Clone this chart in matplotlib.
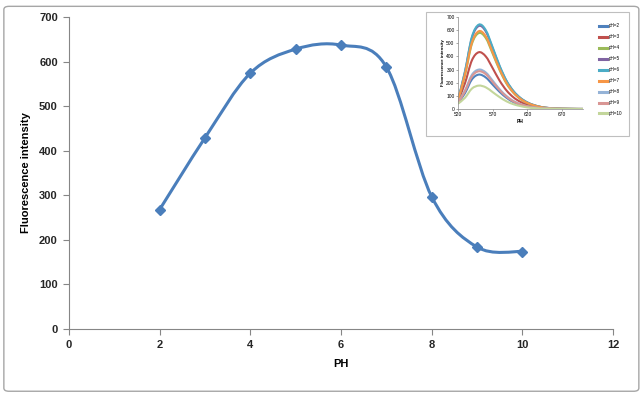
import matplotlib
matplotlib.use("Agg")
import matplotlib.pyplot as plt
from matplotlib.path import Path
from matplotlib.patches import PathPatch, FancyBboxPatch, Rectangle
from matplotlib.lines import Line2D

plt.rcParams['font.family'] = ['Liberation Sans', 'DejaVu Sans']

# Main chart data
ph = [2, 3, 4, 5, 6, 7, 8, 9, 10]
intensity = [268, 429, 574, 628, 637, 588, 297, 184, 174]

# Inset spectra data
wavelength = [520, 530, 540, 550, 560, 570, 580, 590, 600, 610, 620, 630, 640, 650, 660, 680, 700]
spec_ph2 = [45, 120, 225, 262, 240, 185, 130, 85, 52, 32, 18, 10, 5, 3, 1, 0, 0]
spec_ph3 = [60, 195, 370, 432, 400, 310, 215, 140, 88, 54, 32, 18, 10, 5, 2, 0, 0]
spec_ph4 = [65, 255, 495, 578, 540, 420, 295, 192, 122, 75, 45, 26, 14, 7, 3, 1, 0]
spec_ph5 = [68, 280, 540, 632, 590, 460, 322, 210, 133, 82, 49, 28, 15, 8, 3, 1, 0]
spec_ph6 = [70, 285, 548, 642, 600, 468, 328, 214, 136, 84, 50, 29, 15, 8, 3, 1, 0]
spec_ph7 = [66, 262, 505, 592, 553, 430, 302, 197, 125, 77, 46, 27, 14, 7, 3, 1, 0]
spec_ph8 = [50, 140, 260, 300, 278, 215, 150, 98, 60, 37, 21, 12, 6, 3, 1, 0, 0]
spec_ph9 = [48, 133, 248, 287, 265, 205, 143, 93, 57, 35, 20, 11, 6, 3, 1, 0, 0]
spec_ph10 = [40, 85, 155, 178, 165, 128, 90, 58, 36, 22, 12, 7, 3, 2, 1, 0, 0]
spectra = [spec_ph2, spec_ph3, spec_ph4, spec_ph5, spec_ph6, spec_ph7, spec_ph8, spec_ph9, spec_ph10]
spec_labels = ['pH=2', 'pH=3', 'pH=4', 'pH=5', 'pH=6', 'pH=7', 'pH=8', 'pH=9', 'pH=10']
spec_colors = ['#4F81BD', '#C0504D', '#9BBB59', '#8064A2', '#4BACC6', '#F79646', '#95B3D7', '#D99694', '#C3D69B']


def smooth_path(xs, ys):
    """Excel-like smoothed line: Catmull-Rom converted to cubic Beziers, in data coords."""
    pts = list(zip(xs, ys))
    verts = [pts[0]]
    codes = [Path.MOVETO]
    n = len(pts)
    for i in range(n - 1):
        p0 = pts[i - 1] if i > 0 else pts[i]
        p1 = pts[i]
        p2 = pts[i + 1]
        p3 = pts[i + 2] if i + 2 < n else pts[i + 1]
        c1 = (p1[0] + (p2[0] - p0[0]) / 6, p1[1] + (p2[1] - p0[1]) / 6)
        c2 = (p2[0] - (p3[0] - p1[0]) / 6, p2[1] - (p3[1] - p1[1]) / 6)
        verts += [c1, c2, p2]
        codes += [Path.CURVE4] * 3
    return Path(verts, codes)


fig = plt.figure(figsize=(6.44, 3.96), dpi=100)

# Outer border (behind everything)
border = FancyBboxPatch((0.006, 0.012), 0.986, 0.972, boxstyle="round,pad=0,rounding_size=0.008",
                        transform=fig.transFigure, facecolor='white', edgecolor='#A6A6A6', lw=1.0, zorder=-10)
fig.patches.append(border)

ax = fig.add_axes([0.107, 0.169, 0.845, 0.788])
ax.set_facecolor('none')
ax.add_patch(PathPatch(smooth_path(ph, intensity), facecolor='none', edgecolor='#4A7EBB', lw=2.2, zorder=3))
ax.plot(ph, intensity, linestyle='none', marker='D', markersize=5.5, color='#4A7EBB', zorder=4)
ax.set_xlim(0, 12)
ax.set_ylim(0, 700)
ax.set_xticks(range(0, 13, 2))
ax.set_yticks(range(0, 701, 100))
for s in ['top', 'right']:
    ax.spines[s].set_visible(False)
for s in ['left', 'bottom']:
    ax.spines[s].set_color('#868686')
    ax.spines[s].set_linewidth(0.8)
ax.tick_params(direction='out', length=4, color='#868686', width=0.8, labelsize=8, pad=4)
for lab in ax.get_xticklabels() + ax.get_yticklabels():
    lab.set_fontweight('bold')
    lab.set_color('#262626')
ax.set_xlabel('PH', fontsize=8, fontweight='bold', labelpad=6)
ax.set_ylabel('Fluorescence intensity', fontsize=8, fontweight='bold', labelpad=6)

# Inset frame
fig.add_artist(Rectangle((426 / 644, 1 - 136 / 396), 203 / 644, 124 / 396, transform=fig.transFigure,
                         facecolor='white', edgecolor='#BFBFBF', lw=0.8, zorder=5))

ins = fig.add_axes([458 / 644, 1 - 109 / 396, 125 / 644, 92 / 396], zorder=6)
ins.set_facecolor('none')
handles = []
for yv, lab, col in zip(spectra, spec_labels, spec_colors):
    ins.add_patch(PathPatch(smooth_path(wavelength, yv), facecolor='none', edgecolor=col, lw=1.5))
    handles.append(Line2D([], [], color=col, lw=2.2, label=lab))
ins.set_xlim(520, 700)
ins.set_ylim(0, 700)
ins.set_xticks([520, 570, 620, 670])
ins.set_yticks(range(0, 701, 100))
for s in ['top', 'right']:
    ins.spines[s].set_visible(False)
for s in ['left', 'bottom']:
    ins.spines[s].set_color('#868686')
    ins.spines[s].set_linewidth(0.5)
ins.tick_params(direction='out', length=1.5, width=0.5, color='#868686', labelsize=3.5, pad=1)
ins.set_xlabel('PH', fontsize=3.5, fontweight='bold', labelpad=1)
ins.set_ylabel('Fluorescence intensity', fontsize=3.2, fontweight='bold', labelpad=1)
ins.legend(handles=handles, loc='upper left', bbox_to_anchor=(1.11, 0.95), frameon=False, fontsize=3.3,
           handlelength=1.8, labelspacing=1.3, handletextpad=0.4, borderaxespad=0)

fig.savefig('out.png', dpi=100)
